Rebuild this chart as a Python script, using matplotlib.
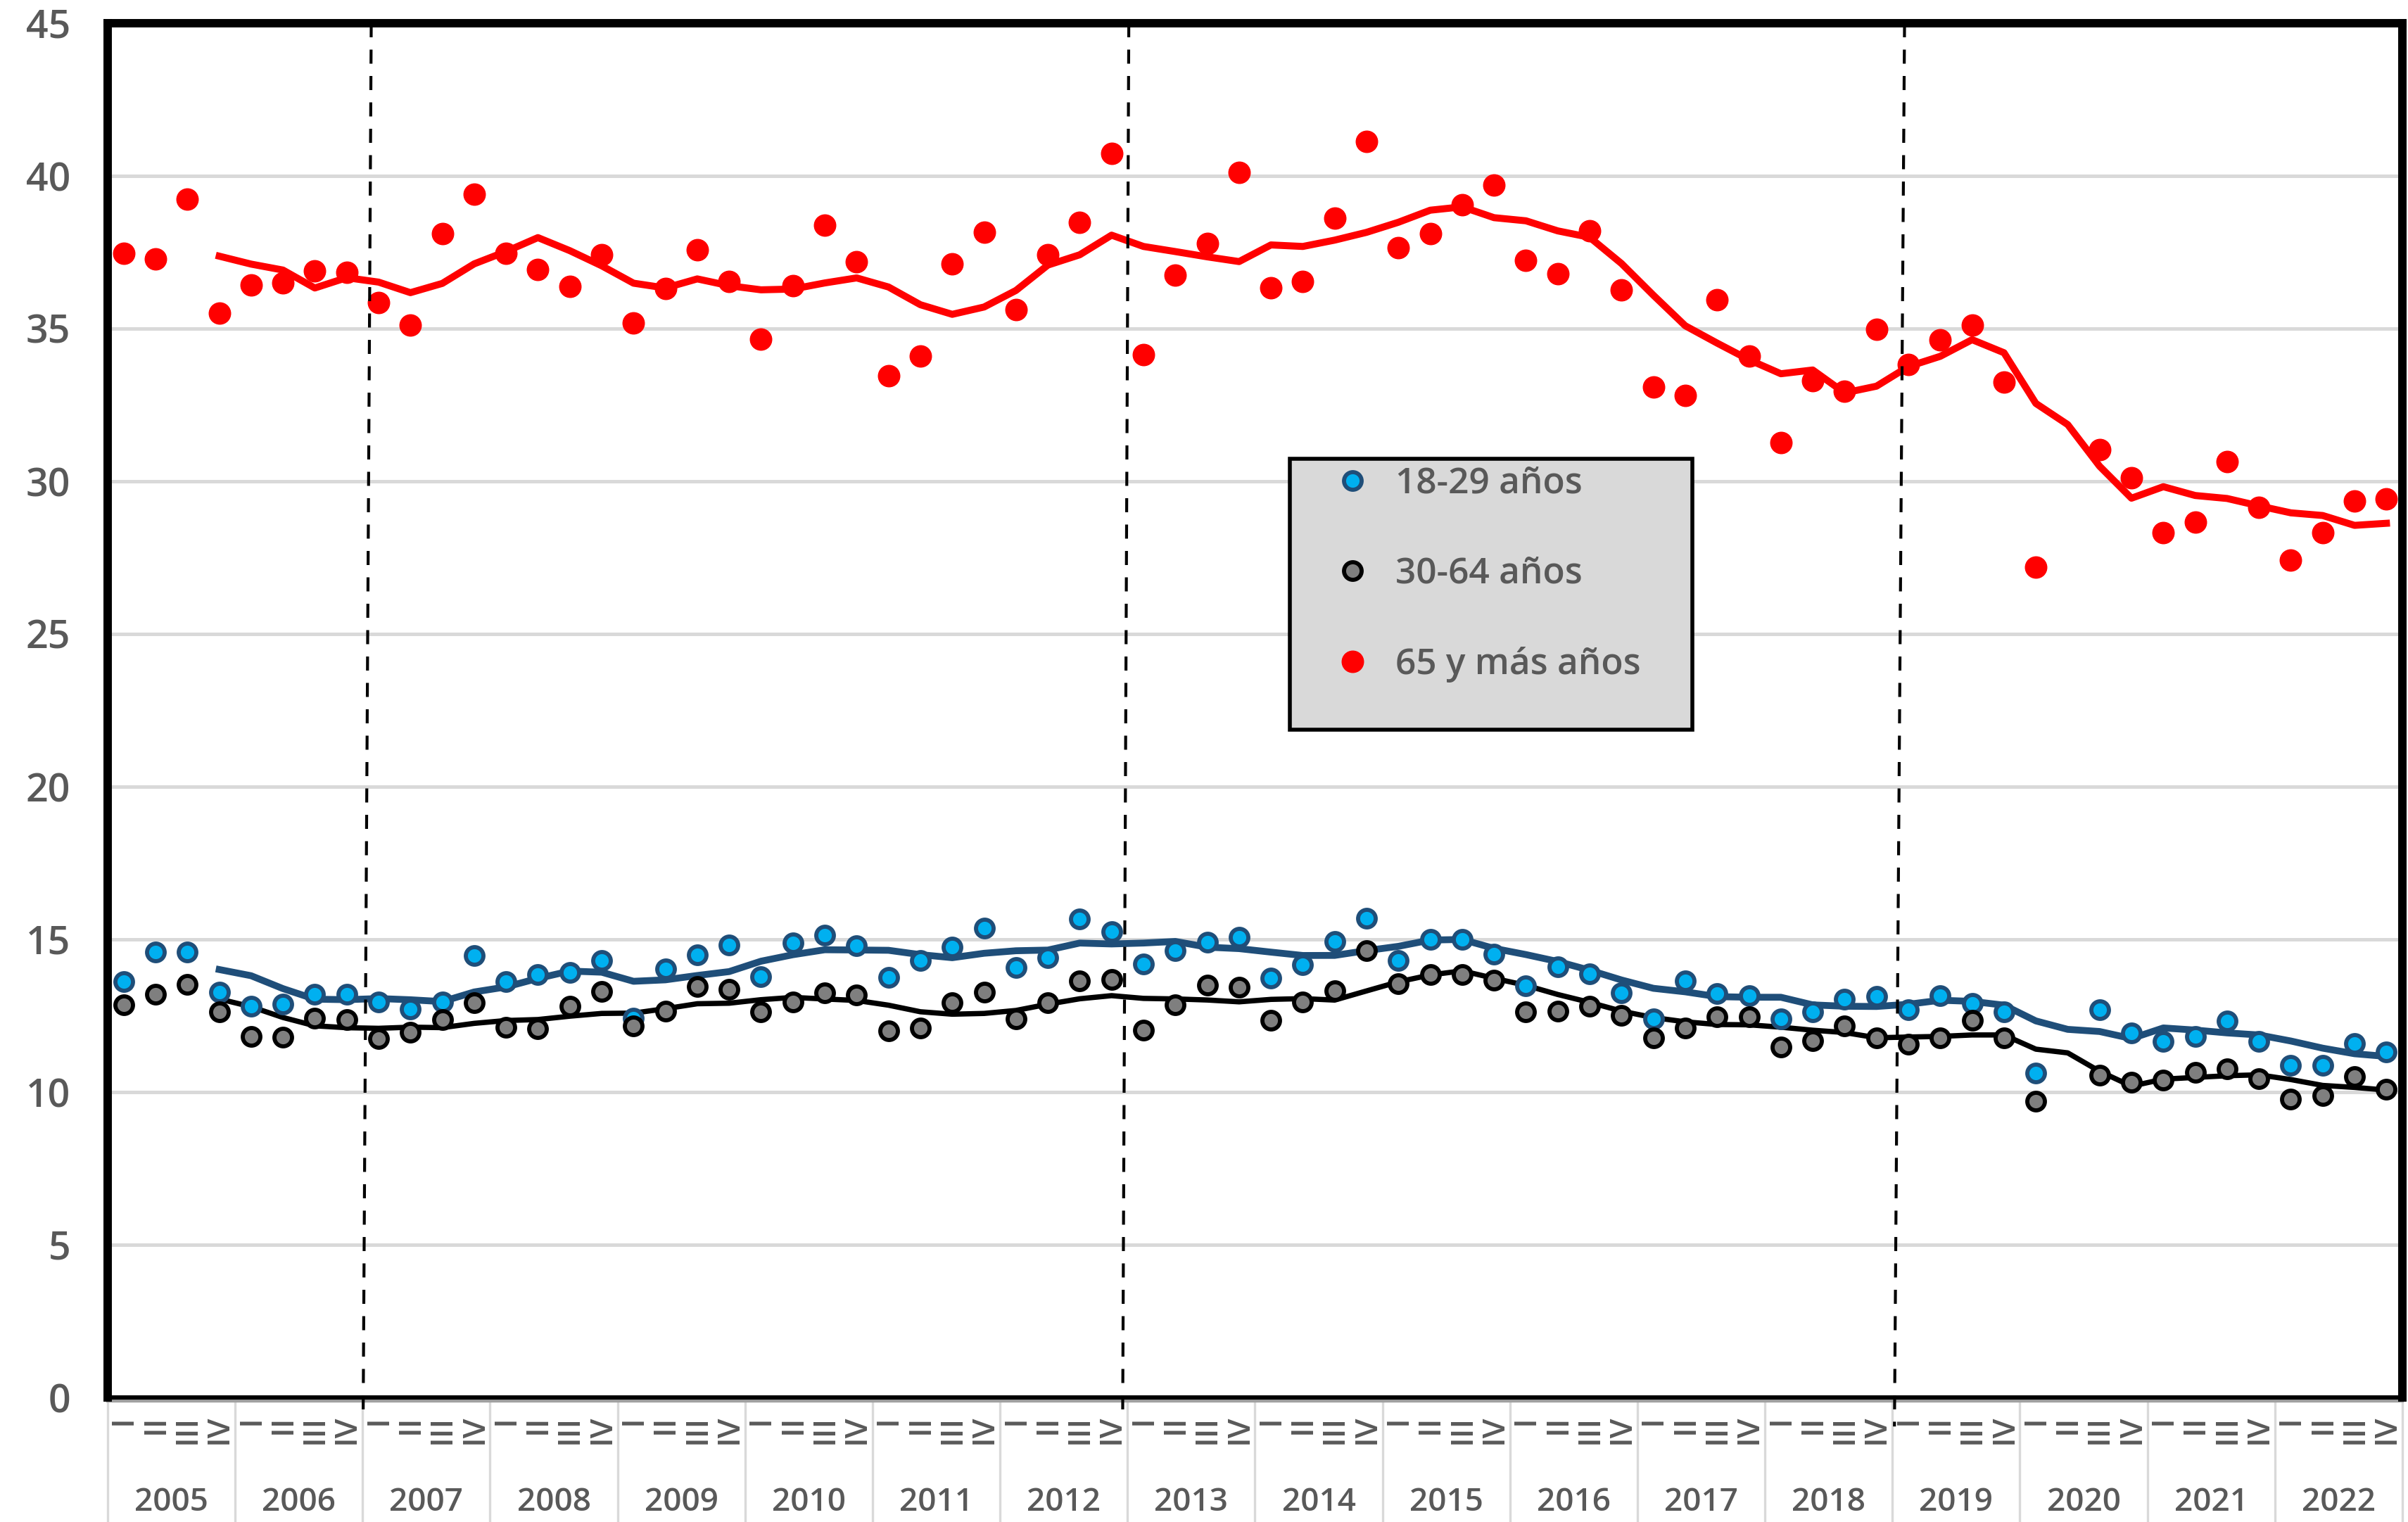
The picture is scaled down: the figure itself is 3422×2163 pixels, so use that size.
import numpy as np
import pandas as pd
import matplotlib
matplotlib.use("Agg")
import matplotlib.pyplot as plt
import matplotlib.transforms as mtransforms
from matplotlib.patches import Rectangle

plt.rcParams['font.family'] = ['Open Sans', 'DejaVu Sans']

nan = np.nan
years = list(range(2005, 2023))
quarter_names = ['I', 'II', 'III', 'IV']
series_labels = ['18-29 años', '30-64 años', '65 y más años']

# Quarterly values 2005-I ... 2022-IV (2020-II missing)
young = [13.62, 14.58, 14.58, 13.27, 12.81, 12.89, 13.20, 13.20, 12.96, 12.73,
         12.96, 14.46, 13.62, 13.85, 13.92, 14.31, 12.43, 14.04, 14.49, 14.82,
         13.79, 14.89, 15.14, 14.79, 13.75, 14.32, 14.74, 15.37, 14.08, 14.41,
         15.66, 15.25, 14.20, 14.62, 14.91, 15.06, 13.74, 14.18, 14.92, 15.69,
         14.30, 15.00, 15.00, 14.52, 13.49, 14.09, 13.86, 13.24, 12.40, 13.63,
         13.23, 13.16, 12.40, 12.63, 13.05, 13.13, 12.69, 13.16, 12.90, 12.63,
         10.63, nan, 12.69, 11.94, 11.67, 11.82, 12.32, 11.67, 10.88, 10.88,
         11.59, 11.32]

adult = [12.85, 13.21, 13.52, 12.62, 11.83, 11.80, 12.43, 12.37, 11.75, 11.95,
         12.37, 12.93, 12.12, 12.08, 12.81, 13.29, 12.16, 12.66, 13.46, 13.36,
         12.62, 12.96, 13.25, 13.17, 12.00, 12.10, 12.93, 13.27, 12.39, 12.92,
         13.64, 13.68, 12.03, 12.85, 13.50, 13.44, 12.35, 12.95, 13.31, 14.64,
         13.54, 13.85, 13.85, 13.66, 12.62, 12.65, 12.82, 12.51, 11.78, 12.09,
         12.47, 12.47, 11.47, 11.69, 12.17, 11.78, 11.57, 11.77, 12.36, 11.78,
         9.71, nan, 10.55, 10.32, 10.40, 10.65, 10.77, 10.44, 9.78, 9.88,
         10.51, 10.09]

senior = [37.47, 37.28, 39.24, 35.50, 36.43, 36.50, 36.89, 36.85, 35.85, 35.12,
          38.10, 39.41, 37.47, 36.94, 36.39, 37.43, 35.19, 36.31, 37.58, 36.54,
          34.65, 36.41, 38.38, 37.20, 33.46, 34.09, 37.12, 38.16, 35.63, 37.41,
          38.47, 40.73, 34.15, 36.74, 37.78, 40.11, 36.33, 36.54, 38.61, 41.13,
          37.65, 38.12, 39.05, 39.71, 37.24, 36.80, 38.21, 36.27, 33.09, 32.80,
          35.94, 34.09, 31.26, 33.29, 32.94, 34.97, 33.83, 34.63, 35.12, 33.26,
          27.19, nan, 31.03, 30.12, 28.32, 28.67, 30.64, 29.15, 27.41, 28.32,
          29.35, 29.42]

# vertical dashed dividers (top x, bottom x, in category units)
div_top = [7.77, 31.54, 55.88]
div_bottom = [7.52, 31.35, 55.57]
div_ext = [-0.65, -0.55, -0.95]

GRAY_TXT = '#595959'
W = 'semibold'

n = len(senior)
x = np.arange(n)


def moving_avg(v):
    m = pd.Series(v).rolling(4, min_periods=3).mean()
    m.iloc[:3] = nan
    return m.values


fig = plt.figure(figsize=(3422 / 200, 2163 / 200), dpi=200)
ax = fig.add_axes([153 / 3422, 1 - 1986 / 2163, (3414 - 153) / 3422, (1986 - 33) / 2163])

# trend lines
ax.plot(x, moving_avg(senior), color='#FF0000', lw=3.6, zorder=3, solid_joinstyle='round')
ax.plot(x, moving_avg(young), color='#1F4E79', lw=3.5, zorder=3, solid_joinstyle='round')
ax.plot(x, moving_avg(adult), color='black', lw=2.7, zorder=3, solid_joinstyle='round')

# points
h1, = ax.plot(x, young, 'o', ms=9.0, mfc='#00B0F0', mec='#1F4E79', mew=2.1, zorder=4,
              label=series_labels[0])
h2, = ax.plot(x, adult, 'o', ms=9.0, mfc='#7F7F7F', mec='black', mew=2.1, zorder=4,
              label=series_labels[1])
h3, = ax.plot(x, senior, 'o', ms=11.0, mfc='#FF0000', mec='#FF0000', mew=0.5, zorder=4,
              label=series_labels[2])

# dividers
for xt, xb, ye in zip(div_top, div_bottom, div_ext):
    slope = (xt - xb) / 45.0
    ax.plot([xt, xb + slope * ye], [45, ye], color='black', lw=1.5,
            linestyle=(0, (4.8, 4.2)), zorder=5, clip_on=False)

ax.set_xlim(-0.5, n - 0.5)
ax.set_ylim(0, 45)
ax.set_yticks(np.arange(0, 46, 5))
ax.yaxis.grid(True, color='#D9D9D9', lw=1.8)
ax.set_axisbelow(True)

for side in ['left', 'top', 'right']:
    ax.spines[side].set_linewidth(4.3)
    ax.spines[side].set_color('black')
ax.spines['bottom'].set_linewidth(2.2)

ax.tick_params(axis='y', length=0, pad=19, labelsize=20, labelcolor=GRAY_TXT)
for t in ax.get_yticklabels():
    t.set_fontweight(W)

qlabels = [quarter_names[i % 4] for i in range(n)]
ax.set_xticks(x)
ax.set_xticklabels(qlabels, rotation=90, fontsize=16, color=GRAY_TXT, fontweight=W)
ax.tick_params(axis='x', length=0, pad=9)

trans = mtransforms.blended_transform_factory(ax.transData, ax.transAxes)
for k, yr in enumerate(years):
    ax.text(4 * k + 1.5, -0.0765, str(yr), transform=trans, ha='center', va='center',
            fontsize=16.5, color=GRAY_TXT, fontweight=W)
for b in range(len(years) + 1):
    xb = 4 * b - 0.5
    ax.plot([xb, xb], [-0.002, -0.095], transform=trans, color='#D9D9D9', lw=1.2,
            clip_on=False, zorder=1)
ax.plot([-0.5, n - 0.5], [-0.0028, -0.0028], transform=trans, color='#A0A0A0', lw=1.6,
        clip_on=False, zorder=1)

# legend box
ax.add_patch(Rectangle((0.5152, 0.4859), 0.1754, 0.1972, transform=ax.transAxes,
                       facecolor='#D9D9D9', edgecolor='black', lw=2.0, zorder=6))
leg = ax.legend(handles=[h1, h2, h3], loc='upper left', bbox_to_anchor=(0.5347, 0.6775),
                frameon=False, prop={'size': 18.5, 'weight': W}, handlelength=1.0,
                handletextpad=0.68, labelspacing=1.52, borderpad=0, borderaxespad=0)
leg.set_zorder(7)
for t in leg.get_texts():
    t.set_color(GRAY_TXT)

fig.savefig('out.png', dpi=200)
